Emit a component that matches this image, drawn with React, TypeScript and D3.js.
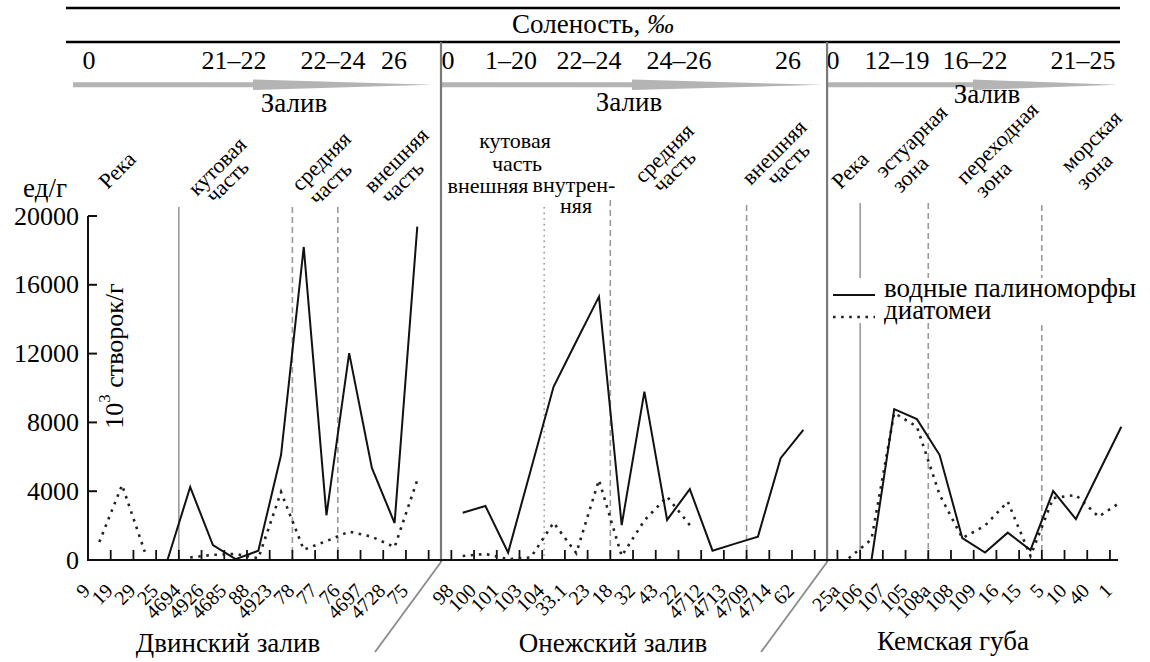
import React from "react";
import * as d3 from "d3";

// станции по заливам (подписи оси X)
const dvinaStations = ["9", "19", "29", "25", "4694", "4926", "4685", "88", "4923", "78", "77", "76", "4697", "4728", "75"];
const onegaStations = ["98", "100", "101", "103", "104", "33.1", "23", "18", "32", "43", "22", "4712", "4713", "4709", "4714", "62"];
const kemStations = ["25а", "106", "107", "105", "108а", "108", "109", "16", "15", "5", "10", "40", "1"];

// водные палиноморфы, ед/г
const dvinaPalyno = [null, null, null, 0, 4240, 870, 50, 540, 6100, 18200, 2600, 12030, 5350, 2150, 19380];
const onegaPalyno = [2750, 3140, 430, 5250, 10070, 12700, 15310, 2030, 9790, 2330, 4120, 540, 950, 1360, 5920, 7560];
const kemPalyno = [null, 0, 8770, 8190, 6100, 1270, 430, 1590, 580, 4010, 2380, 5070, 7750];

// диатомеи, 10^3 створок/г
const dvinaDiatoms = [1050, 4360, 480, null, 150, 300, 350, 100, 3950, 600, 1100, 1650, 1350, 750, 4650];
const onegaDiatoms = [230, 350, 50, 150, 2170, 400, 4650, 230, 2300, 3680, 2030, null, null, null, null, null];
const kemDiatoms = [100, 1200, 8550, 7750, 3800, 1270, 2000, 3390, 230, 3600, 3780, 2520, 3390];

const yTicks = [0, 4000, 8000, 12000, 16000, 20000];

const bays = [
  { key: "d", title: "Двинский залив", stations: dvinaStations, palyno: dvinaPalyno, diatoms: dvinaDiatoms },
  { key: "o", title: "Онежский залив", stations: onegaStations, palyno: onegaPalyno, diatoms: onegaDiatoms },
  { key: "k", title: "Кемская губа", stations: kemStations, palyno: kemPalyno, diatoms: kemDiatoms },
];

// солёность по зонам
const salinity = [
  { t: "0", x: 89 }, { t: "21–22", x: 234 }, { t: "22–24", x: 333 }, { t: "26", x: 394 },
  { t: "0", x: 448 }, { t: "1–20", x: 511 }, { t: "22–24", x: 589 }, { t: "24–26", x: 679 }, { t: "26", x: 788 },
  { t: "0", x: 833 }, { t: "12–19", x: 897 }, { t: "16–22", x: 975 }, { t: "21–25", x: 1083 },
];

// границы зон: станция, перед которой проходит линия
const zoneLines = [
  { at: "d-4694", kind: "solid", top: 207 },
  { at: "d-78", kind: "dashed", top: 207 },
  { at: "d-76", kind: "dashed", top: 207 },
  { at: "o-104", kind: "dotted", top: 207 },
  { at: "o-18", kind: "dashed", top: 200 },
  { at: "o-4709", kind: "dashed", top: 205 },
  { at: "k-106", kind: "solid", top: 203 },
  { at: "k-108а", kind: "dashed", top: 203 },
  { at: "k-5", kind: "dashed", top: 205 },
];

const tiltedLabels = [
  { t: "Река", x: 117, y: 170 },
  { t: "кутовая", x: 217, y: 166 }, { t: "часть", x: 227, y: 181 },
  { t: "средняя", x: 321, y: 161 }, { t: "часть", x: 330, y: 183 },
  { t: "внешняя", x: 396, y: 160 }, { t: "часть", x: 402, y: 182 },
  { t: "средняя", x: 664, y: 153 }, { t: "часть", x: 674, y: 171 },
  { t: "внешняя", x: 774, y: 152 }, { t: "часть", x: 788, y: 164 },
  { t: "Река", x: 850, y: 170 },
  { t: "эстуарная", x: 911, y: 141 }, { t: "зона", x: 910, y: 174 },
  { t: "переходная", x: 997, y: 143 }, { t: "зона", x: 993, y: 179 },
  { t: "морская", x: 1091, y: 141 }, { t: "зона", x: 1094, y: 171 },
];

const flatLabels = [
  { t: "кутовая", x: 515, y: 148 },
  { t: "часть", x: 517, y: 171 },
  { t: "внешняя", x: 488, y: 193 },
  { t: "внутрен-", x: 574, y: 192 },
  { t: "няя", x: 576, y: 213 },
];

const W = 1150;
const H = 662;
const serif = { fontFamily: '"Liberation Serif", "Times New Roman", serif' };

const slotKeys: string[] = [];
bays.forEach((b, i) => {
  b.stations.forEach((s) => slotKeys.push(b.key + "-" + s));
  if (i < bays.length - 1) slotKeys.push("gap" + i);
});

const step = 22.71;
const x = d3.scaleBand<string>().domain(slotKeys).range([88, 88 + slotKeys.length * step]);
const bw = x.bandwidth();
const y = d3.scaleLinear().domain([0, 20000]).range([560, 216]);

const cx = (k: string) => (x(k) as number) + bw / 2;

const line = d3
  .line<{ k: string; v: number | null }>()
  .defined((d) => d.v !== null)
  .x((d) => cx(d.k))
  .y((d) => y(d.v as number));

const arrows = [
  { x0: 73, xm: 253, x1: 432 },
  { x0: 442, xm: 632, x1: 822 },
  { x0: 828, xm: 973, x1: 1117 },
];

const App = () => {
  const borders = ["gap0", "gap1"].map((g) => cx(g) + 1);
  const ticks = slotKeys.slice(1).map((k) => x(k) as number);

  return (
    <svg width={W} height={H} style={{ position: "absolute", left: 0, top: 0, background: "#fff" }}>
      {/* шапка */}
      <line x1={66} x2={1120} y1={8} y2={8} stroke="#000" strokeWidth={2.5} />
      <line x1={66} x2={1120} y1={42} y2={42} stroke="#000" strokeWidth={2.5} />
      <text x={593} y={33} fontSize={27} textAnchor="middle" style={serif}>
        Соленость, <tspan fontStyle="italic">‰</tspan>
      </text>
      {salinity.map((s, i) => (
        <text key={"s" + i} x={s.x} y={69} fontSize={26} textAnchor="middle" style={serif}>{s.t}</text>
      ))}
      {arrows.map((a, i) => (
        <polygon
          key={"a" + i}
          points={`${a.x0},82.3 ${a.xm},82.3 ${a.xm},79.5 ${a.x1},84.8 ${a.xm},90 ${a.xm},87.3 ${a.x0},87.3`}
          fill="#b4b4b4"
        />
      ))}
      <text x={294} y={112} fontSize={27} textAnchor="middle" style={serif}>Залив</text>
      <text x={629} y={111} fontSize={27} textAnchor="middle" style={serif}>Залив</text>
      <text x={987} y={103} fontSize={27} textAnchor="middle" style={serif}>Залив</text>

      {tiltedLabels.map((l, i) => (
        <text key={"tl" + i} transform={`translate(${l.x},${l.y}) rotate(-45)`} fontSize={22} textAnchor="middle" dominantBaseline="central" style={serif}>
          {l.t}
        </text>
      ))}
      {flatLabels.map((l, i) => (
        <text key={"fl" + i} x={l.x} y={l.y} fontSize={22} textAnchor="middle" style={serif}>{l.t}</text>
      ))}

      {/* границы зон */}
      {zoneLines.map((z, i) => {
        const xx = (x(z.at) as number) + (z.kind === "dotted" ? 2 : 0);
        return (
          <line
            key={"z" + i}
            x1={xx}
            x2={xx}
            y1={z.top}
            y2={560}
            stroke="#9a9a9a"
            strokeWidth={1.6}
            strokeDasharray={z.kind === "dashed" ? "6 4" : z.kind === "dotted" ? "1.6 4" : undefined}
          />
        );
      })}

      {/* рамки заливов */}
      {borders.map((bx, i) => (
        <g key={"b" + i}>
          <line x1={bx} x2={bx} y1={42} y2={562} stroke="#7a7a7a" strokeWidth={2.2} />
          <line x1={bx} x2={bx - 66} y1={562} y2={652} stroke="#8a8a8a" strokeWidth={1.8} />
        </g>
      ))}

      {/* оси */}
      <line x1={88} x2={88} y1={216} y2={561} stroke="#111" strokeWidth={2} />
      {yTicks.map((t) => (
        <g key={"yt" + t}>
          <line x1={88} x2={97} y1={y(t)} y2={y(t)} stroke="#111" strokeWidth={2} />
          <text x={79} y={y(t)} fontSize={26} textAnchor="end" dominantBaseline="central" style={serif}>{t}</text>
        </g>
      ))}
      <text x={45} y={197} fontSize={27} textAnchor="middle" style={serif}>ед/г</text>
      <text transform="translate(114,356) rotate(-90)" fontSize={26} textAnchor="middle" dominantBaseline="central" style={serif}>
        10<tspan dy={-10} fontSize={17}>3</tspan><tspan dy={10}> створок/г</tspan>
      </text>
      <line x1={87} x2={1118} y1={560} y2={560} stroke="#111" strokeWidth={2} />
      {ticks.map((t, i) => (
        <line key={"xt" + i} x1={t} x2={t} y1={550} y2={560} stroke="#111" strokeWidth={1.8} />
      ))}

      {/* данные */}
      {bays.map((b) => {
        const pal = b.stations.map((s, i) => ({ k: b.key + "-" + s, v: b.palyno[i] }));
        const dia = b.stations.map((s, i) => ({ k: b.key + "-" + s, v: b.diatoms[i] }));
        return (
          <g key={"d" + b.key}>
            <path d={line(dia) || ""} fill="none" stroke="#222" strokeWidth={2.6} strokeDasharray="2.6 5.5" />
            <path d={line(pal) || ""} fill="none" stroke="#111" strokeWidth={2} strokeLinejoin="miter" />
          </g>
        );
      })}

      {/* подписи станций */}
      {bays.map((b) =>
        b.stations.map((s) => (
          <text
            key={"st" + b.key + s}
            transform={`translate(${cx(b.key + "-" + s) - 13},587) rotate(-45)`}
            fontSize={20}
            textAnchor="end"
            dominantBaseline="central"
            style={serif}
          >
            {s}
          </text>
        ))
      )}
      {bays.map((b, i) => (
        <text key={"t" + b.key} x={[228, 613, 953][i]} y={[652, 652, 650][i]} fontSize={27} textAnchor="middle" style={serif}>{b.title}</text>
      ))}

      {/* легенда */}
      <rect x={830} y={278} width={318} height={45} fill="#fff" />
      <line x1={833} x2={875} y1={295} y2={295} stroke="#111" strokeWidth={2} />
      <line x1={833} x2={875} y1={317} y2={317} stroke="#222" strokeWidth={2.6} strokeDasharray="2.6 5.5" />
      <text x={884} y={297} fontSize={27} style={serif}>водные палиноморфы</text>
      <text x={884} y={319} fontSize={27} style={serif}>диатомеи</text>
    </svg>
  );
};

export default App;
